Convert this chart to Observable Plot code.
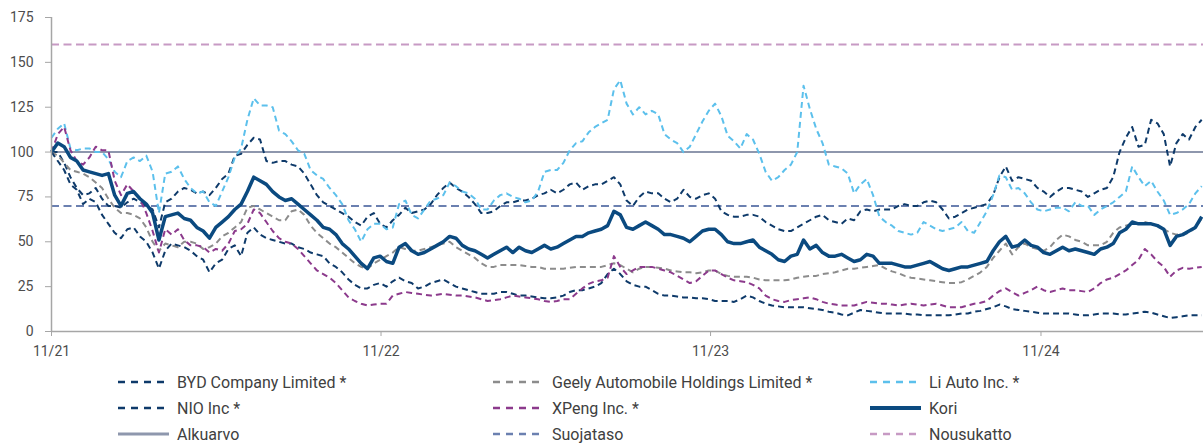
<!DOCTYPE html>
<html><head><meta charset="utf-8">
<script src="https://cdn.jsdelivr.net/npm/d3@7"></script>
<script src="https://cdn.jsdelivr.net/npm/@observablehq/plot@0.6"></script>
<style>
body{margin:0;background:#fff;font-family:Roboto,"Liberation Sans",sans-serif;}
#wrap{position:relative;width:1203px;height:443px;overflow:hidden;}
#chart{position:absolute;left:0;top:0;}
.leg{position:absolute;display:flex;align-items:center;font-size:16px;color:#404040;white-space:nowrap;height:20px;}
.leg svg{margin-right:8px;display:block;}
</style></head><body>
<div id="wrap"><div id="chart"></div></div>
<script>
const startDate = "2021-11-01";
const endDate = "2025-04-30";
const stepDays = 7;
const xTickDates = ["2021-11-01","2022-11-01","2023-11-01","2024-11-01"];
const yTicks = [0,25,50,75,100,125,150,175];
const alkuarvo = 100, suojataso = 70, nousukatto = 160;

const byd = [
100,100,94,86,80,76,77,80,74,70,
70,69,72,74,72,70,68,58,72,74,
78,80,79,77,78,76,80,85,88,98,
99,104,108,107,95,94,95,95,93,92,
88,82,76,72,70,68,66,64,61,59,
64,66,60,58,62,65,69,66,67,68,
71,76,80,83,80,78,75,71,66,66,
67,70,72,72,73,73,74,76,77,79,
77,79,82,83,79,81,82,82,84,86,
82,73,70,75,78,77,77,74,72,74,
79,75,74,76,77,74,67,65,64,64,
65,65,64,61,59,57,56,56,58,60,
62,64,65,62,61,60,63,62,67,68,
67,68,68,68,70,71,70,70,72,73,
72,68,63,64,66,68,69,70,71,76,
86,92,84,86,85,84,80,78,75,78,
80,80,79,78,75,77,79,80,86,100,
108,114,103,104,118,116,110,92,105,110,
107,114,118];

const geely = [
100,98,94,90,89,88,86,83,80,74,
69,66,66,65,63,58,50,45,49,48,
47,50,50,49,46,47,49,53,55,58,
61,69,70,68,66,64,62,62,67,68,
65,59,55,52,49,47,44,41,38,36,
35,38,40,42,44,47,46,45,45,46,
47,48,49,50,47,45,43,41,38,36,
36,37,37,37,37,36.5,36,36,35,35,
35,35,35.5,36,36,36,36,36,37,38,
37,35,33,35,36,36,35.5,35,34,33.5,
33,33,32.5,33,34,34,32,31,30.5,30.5,
30.5,30,29,28.5,28.5,28.5,28.5,29,30,30.5,
31,31,32,32.5,33,34,35,35,35.5,36,
36.5,37,35,33.5,32.5,31,30,29.5,29,28.5,
28,27.5,27,27,27.5,29,31,33,36,41,
45,49,43,47,49,47,46,45,47,51,
54,53,51,50,48,48,48,50,55,58,
59,60,60,61,60,59,57,55,54,54,
55,58,63];

const liAuto = [
108,113,116,102,101,102,102,100,100,96,
89,86,95,97,95,98,89,66,88,89,
92,85,80,77,78,72,70,78,86,97,
102,118,130,126,126,125,112,110,106,101,
99,90,87,85,80,76,71,62,57,50,
57,60,60,57,58,71,73,65,63,68,
73,74,76,83,81,78,77,74,68,68,
73,76,77,75,74,72,73,78,89,90,
90,94,101,105,106,111,114,116,118,135,
140,127,121,125,121,123,121,110,107,105,
100,103,110,117,123,127,120,109,106,102,
110,107,99,89,84,86,90,93,100,137,
124,113,105,93,92,91,88,77,82,85,
76,64,61,59,56,55,54,55,61,59,
57,56,57,58,61,56,55,61,67,76,
87,86,79,80,77,72,68,67,68,69,
69,67,72,70,70,65,68,70,72,75,
78,92,86,81,84,78,73,65,66,68,
71,77,81];

const nio = [
100,95,90,82,79,71,74,72,65,60,
55,52,57,58,53,50,44,35,45,49,
48,47,45,42,40,33,38,40,46,48,
42,55,58,54,52,51,50,49,49,47,
46,44,43,42,38,36,33,29,26,24,
24,26,27,25,28,30,28,27,24,25,
27,28,29,27,25,24,23,22,21,21,
21,22,22,21,20,20,19.5,19,18.5,18.5,
19,20,22,23,23,24,25,27,32,35,
32,28,26,25,25,23,21,20,20,19.5,
19,19,18.5,18.5,18,17,17,17,16.5,18,
20,19,17,15.5,14.5,14,13.5,13.5,13.5,13.5,
13,12.5,12,11,10.5,9.5,9,10.5,12,11.5,
11,10.5,10,10,10,10,9.5,9.5,9,9,
9,9,9,9.5,10,10,11,11.5,12.5,13.5,
15,14,12.5,12,11.5,11,10.5,10,10,10,
10,10,9.5,9,9,9.5,10,10,10,9.5,
9.5,10,10.5,11,10.5,9.5,8.5,7.5,8,8.5,
9,9,9];

const xpeng = [
100,110,114,101,95,93,97,103,101,101,
84,76,82,78,74,66,56,44,57,54,
57,51,48,48,47,44,46,45,49,56,
57,60,68,66,61,56,52,50,49,46,
42,38,34,32,30,27,23,19,17,15.5,
14.5,15,15.5,15.5,20,21,22,21.5,21,20.5,
20,20.5,21,20.5,20,20,19.5,19,18,17,
17.5,18,19,20,19.5,19,18.5,18,17,16.5,
17,18,18,21,24,26.5,28,28.5,30,42,
36,32,34,36,36,36,35,34,33,31,
29,27,28,31,34,34,32,30,28.5,28,
27.5,26,24,20,18,17,16.5,17.5,18,18.5,
19,18,16.5,15.5,15,14.5,14.5,14.5,15.5,16.5,
16,15.5,15.5,15,14.5,15,15.5,15,14.5,15,
15.5,14.5,13.5,13.5,13.5,14.5,15.5,16,17,20,
22.5,24,22,20,21.5,23,25,23,22,23,
24,23,23,22.5,22,24,27,29,30,32,
34,37,40,46,43,39,36,30.5,34,35.5,
35,35.5,36];

const kori = [
100,105,103,97,95,90,89,88,87,88,
76,70,77,78,74,71,66,51,64,65,
66,63,62,58,56,52,58,61,64,68,
71,78,86,84,82,78,75,73,74,71,
68,65,62,58,57,54,49,46,42,38,
35,41,42,39,38,47,49,45,43,44,
46,48,50,53,52,48,46,45,43,41,
43,45,47,44,47,45,44,46,48,46,
47,49,51,53,53,55,56,57,59,67,
65,58,57,59,61,59,57,54,54,53,
52,50,53,56,57,57,54,50,49,49,
50,51,47,45,43,40,39,42,43,51,
46,48,44,42,42,43,41,39,40,43,
42,38,38,38,37,36,36,37,38,39,
37,35,34,35,36,36,37,38,39,45,
50,53,47,48,51,48,47,44,43,45,
47,45,46,45,44,43,46,47,49,55,
57,61,60,60,60,59,57,48,53,54,
56,58,64];

const seriesNames = ["BYD Company Limited *","Geely Automobile Holdings Limited *","Li Auto Inc. *","NIO Inc *","XPeng Inc. *","Kori"];
const seriesValues = [byd, geely, liAuto, nio, xpeng, kori];
const refNames = ["Alkuarvo","Suojataso","Nousukatto"];
const refValues = [alkuarvo, suojataso, nousukatto];

const styles = {
  "BYD Company Limited *": {stroke:"#0e3a6a", width:2, dash:"6,4"},
  "Geely Automobile Holdings Limited *": {stroke:"#8c8c8c", width:2, dash:"6,4"},
  "Li Auto Inc. *": {stroke:"#5cc0ec", width:2, dash:"6,4"},
  "NIO Inc *": {stroke:"#0e3a6a", width:2, dash:"6,4"},
  "XPeng Inc. *": {stroke:"#8c3a8c", width:2, dash:"6,4"},
  "Kori": {stroke:"#0b4a80", width:3.5, dash:null},
  "Alkuarvo": {stroke:"#8e97ad", width:2, dash:null},
  "Suojataso": {stroke:"#6b80b0", width:2, dash:"8,4.5"},
  "Nousukatto": {stroke:"#c79ac4", width:2, dash:"8,4.5"}
};

const start = new Date(startDate);
function toRows(values){
  return values.map((v,i)=>({date:d3.utcDay.offset(start, i*stepDays), value:v}));
}

const refMarks = refNames.map((n,i)=>Plot.ruleY([refValues[i]], {
  stroke:styles[n].stroke, strokeWidth:styles[n].width, strokeDasharray:styles[n].dash || undefined
}));
const lineMarks = seriesNames.map((n,i)=>Plot.line(toRows(seriesValues[i]), {
  x:"date", y:"value", stroke:styles[n].stroke, strokeWidth:styles[n].width,
  strokeDasharray:styles[n].dash || undefined, strokeLinejoin:"round", strokeLinecap:"butt"
}));

const chart = Plot.plot({
  width:1203, height:355,
  marginLeft:51, marginRight:0, marginTop:17, marginBottom:24,
  style:{fontFamily:"Roboto, 'Liberation Sans', sans-serif", fontSize:"14px", background:"#fff", overflow:"visible"},
  x:{type:"utc", domain:[new Date(startDate), new Date(endDate)]},
  y:{domain:[0,175]},
  marks:[
    ...refMarks,
    ...lineMarks,
    Plot.ruleY([0], {stroke:"#a6a6a6", strokeWidth:1.5}),
    Plot.ruleX([start], {stroke:"#a6a6a6", strokeWidth:1.5}),
    Plot.axisY(yTicks, {tickSize:6, tickPadding:12, stroke:"#a6a6a6", fill:"#4d4d4d", label:null}),
    Plot.axisX(xTickDates.map(d=>new Date(d)), {tickSize:5, tickPadding:10, stroke:"#a6a6a6", fill:"#4d4d4d", label:null, tickFormat:d3.utcFormat("%m/%y")})
  ]
});
document.getElementById("chart").appendChild(chart);

const legendOrder = [
  ["BYD Company Limited *","Geely Automobile Holdings Limited *","Li Auto Inc. *"],
  ["NIO Inc *","XPeng Inc. *","Kori"],
  ["Alkuarvo","Suojataso","Nousukatto"]
];
const colX = [118, 493, 870];
const rowY = [382, 408, 434];
const wrap = document.getElementById("wrap");
legendOrder.forEach((row,r)=>row.forEach((name,c)=>{
  const s = styles[name];
  const div = document.createElement("div");
  div.className = "leg";
  div.style.left = colX[c] + "px";
  div.style.top = (rowY[r]-10) + "px";
  const lw = name==="Kori" ? 4 : (name==="Alkuarvo" ? 3 : 2.6);
  const dash = s.dash ? 'stroke-dasharray="7,6"' : '';
  div.innerHTML = `<svg width="51" height="20"><line x1="0" x2="51" y1="10" y2="10" stroke="${s.stroke}" stroke-width="${lw}" ${dash}/></svg><span>${name}</span>`;
  wrap.appendChild(div);
}));
</script>
</body></html>
